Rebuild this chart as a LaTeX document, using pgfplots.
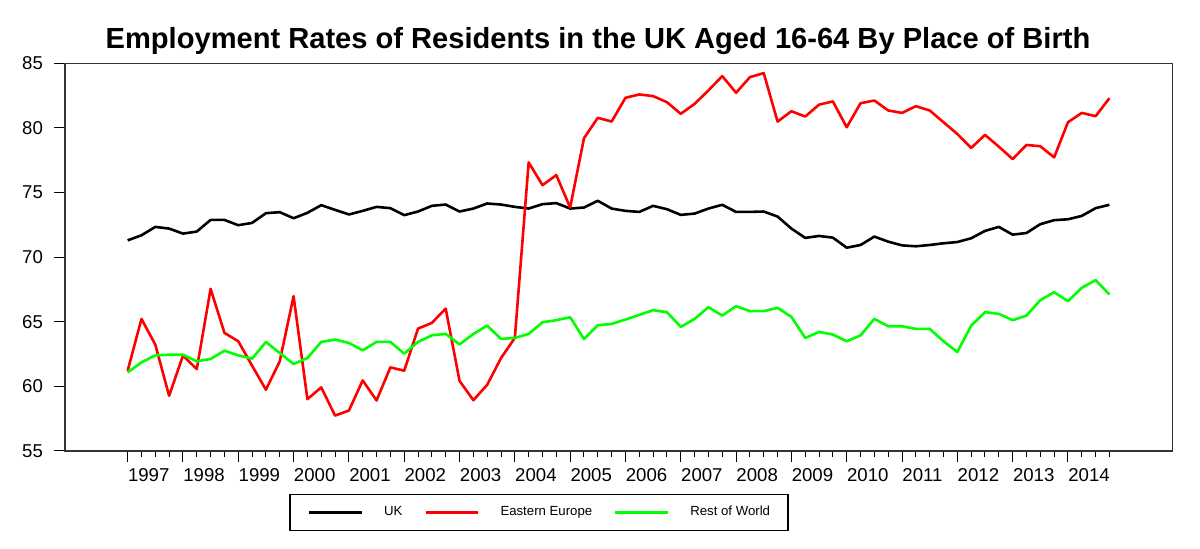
\documentclass[border=0pt]{standalone}
\usepackage{pgfplots}
\pgfplotsset{compat=1.18}
\usepackage{pgfplotstable}
\usepackage{fontspec}
\setmainfont{Liberation Sans}
\pgfplotstableread{
i uk ee rw
0 71.30 61.21 61.08
1 71.69 65.22 61.86
2 72.34 63.23 62.40
3 72.21 59.27 62.45
4 71.82 62.38 62.45
5 71.98 61.34 61.94
6 72.88 67.55 62.12
7 72.88 64.14 62.76
8 72.47 63.49 62.40
9 72.65 61.60 62.14
10 73.40 59.74 63.44
11 73.48 61.94 62.58
12 73.01 66.98 61.73
13 73.43 59.01 62.19
14 74.02 59.92 63.44
15 73.66 57.74 63.62
16 73.30 58.13 63.36
17 73.58 60.46 62.79
18 73.89 58.91 63.44
19 73.79 61.47 63.44
20 73.25 61.21 62.53
21 73.53 64.47 63.44
22 73.97 64.91 63.95
23 74.07 66.02 64.06
24 73.53 60.43 63.25
25 73.76 58.93 64.05
26 74.15 60.12 64.70
27 74.07 62.19 63.67
28 73.89 63.75 63.75
29 73.76 77.33 64.06
30 74.10 75.57 64.96
31 74.18 76.35 65.12
32 73.76 73.84 65.35
33 73.84 79.20 63.67
34 74.36 80.78 64.73
35 73.76 80.49 64.83
36 73.58 82.33 65.17
37 73.50 82.59 65.53
38 73.97 82.46 65.90
39 73.71 81.99 65.74
40 73.27 81.09 64.60
41 73.37 81.86 65.22
42 73.76 82.90 66.13
43 74.05 84.01 65.48
44 73.50 82.72 66.21
45 73.50 83.93 65.82
46 73.53 84.24 65.82
47 73.14 80.49 66.08
48 72.21 81.29 65.38
49 71.49 80.88 63.75
50 71.64 81.80 64.21
51 71.51 82.05 64.01
52 70.73 80.05 63.49
53 70.94 81.91 63.95
54 71.59 82.12 65.22
55 71.20 81.35 64.65
56 70.91 81.16 64.65
57 70.84 81.68 64.45
58 70.94 81.35 64.45
59 71.07 80.44 63.49
60 71.17 79.53 62.66
61 71.46 78.45 64.70
62 72.03 79.46 65.74
63 72.34 78.55 65.61
64 71.74 77.59 65.12
65 71.87 78.68 65.48
66 72.55 78.58 66.67
67 72.86 77.72 67.29
68 72.93 80.44 66.59
69 73.19 81.16 67.63
70 73.79 80.91 68.22
71 74.05 82.30 67.11
}\datatable
\begin{document}
\begin{tikzpicture}
\begin{axis}[
  at={(32.5pt,49pt)}, anchor=south west,
  scale only axis, width=553.75pt, height=193.85pt,
  xmin=-4.53, xmax=75.56, ymin=55, ymax=85,
  xtick={0,4,...,68},
  xticklabels={1997,1998,1999,2000,2001,2002,2003,2004,2005,2006,2007,2008,2009,2010,2011,2012,2013,2014},
  minor xtick={0,...,71},
  ytick={55,60,...,85},
  xtick pos=bottom, ytick pos=left,
  tick align=outside,
  major tick length=5.3pt, minor tick length=2.8pt,
  every tick/.style={black, line width=0.5pt},
  axis line style={black!80, line width=0.7pt},
  /pgf/number format/assume math mode=true,
  ticklabel style={font=\fontsize{9.3}{11}\selectfont},
  xticklabel style={anchor=base west, inner sep=0pt, yshift=-10.05pt},
  yticklabel style={anchor=east, inner sep=0pt, xshift=-5.55pt},
  every axis title shift=0pt,
  title={Employment Rates of Residents in the UK Aged 16-64 By Place of Birth},
  title style={at={(axis description cs:0.4813,1.0387)}, anchor=base, font=\fontsize{14.55}{17}\selectfont\bfseries, inner sep=0pt},
  legend columns=3,
  legend style={at={(axis description cs:0.428,-0.158)}, anchor=center, draw=black, line width=0.6pt,
    font=\fontsize{6.6}{8}\selectfont,
    inner xsep=9pt, inner ysep=5.9pt,
    nodes={inner sep=0pt, text height=4.8pt, text depth=1.4pt},
    /tikz/every odd column/.append style={column sep=10.5pt},
    /tikz/every even column/.append style={column sep=11pt}},
  legend image code/.code={\draw[#1, line width=1.25pt] (0pt,0pt) -- (26.3pt,0pt);},
  legend cell align=left,
]
\addplot[black, line width=1.3pt, line join=round] table[x=i, y=uk] {\datatable};
\addlegendentry{UK}
\addplot[red, line width=1.3pt, line join=round] table[x=i, y=ee] {\datatable};
\addlegendentry{Eastern Europe}
\addplot[green, line width=1.3pt, line join=round] table[x=i, y=rw] {\datatable};
\addlegendentry{Rest of World}
\end{axis}
\pgfresetboundingbox
\path[use as bounding box] (0,0) rectangle (600pt,274.5pt);
\end{tikzpicture}
\end{document}
